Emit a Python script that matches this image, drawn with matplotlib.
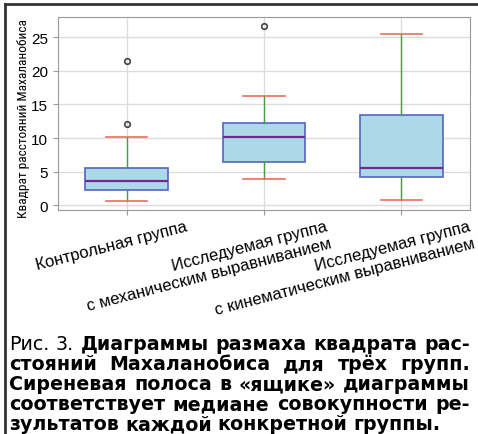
import matplotlib
matplotlib.use('Agg')
import matplotlib.pyplot as plt
import matplotlib.transforms as mtransforms
from matplotlib.lines import Line2D

plt.rcParams['font.family'] = ['Liberation Sans', 'DejaVu Sans']

# data
groups = ['Контрольная группа',
          'Исследуемая группа\nс механическим выравниванием',
          'Исследуемая группа\nс кинематическим выравниванием']
whislo = [0.65, 3.95, 0.8]
q1 = [2.25, 6.45, 4.2]
med = [3.6, 10.2, 5.6]
q3 = [5.5, 12.2, 13.4]
whishi = [10.2, 16.2, 25.5]
fliers = [[12.1, 21.4], [26.6], []]
yticks = [0, 5, 10, 15, 20, 25]
ylabel = 'Квадрат расстояний Махаланобиса'

caption = [
    [('Рис.', 'normal'), ('3.', 'normal'), ('Диаграммы', 'bold'), ('размаха', 'bold'),
     ('квадрата', 'bold'), ('рас-', 'bold')],
    [('стояний', 'bold'), ('Махаланобиса', 'bold'), ('для', 'bold'), ('трёх', 'bold'), ('групп.', 'bold')],
    [('Сиреневая', 'bold'), ('полоса', 'bold'), ('в', 'bold'), ('«ящике»', 'bold'), ('диаграммы', 'bold')],
    [('соответствует', 'bold'), ('медиане', 'bold'), ('совокупности', 'bold'), ('ре-', 'bold')],
    [('зультатов', 'bold'), ('каждой', 'bold'), ('конкретной', 'bold'), ('группы.', 'bold')],
]

W, H = 478, 435
fig = plt.figure(figsize=(W / 100, H / 100), dpi=100)
ax = fig.add_axes([58 / W, 1 - 211 / H, 412 / W, 193 / H])

stats = []
for i in range(len(groups)):
    stats.append(dict(label=groups[i], whislo=whislo[i], q1=q1[i], med=med[i],
                      q3=q3[i], whishi=whishi[i], fliers=fliers[i]))

ax.bxp(stats, positions=[1, 2, 3], widths=0.6, capwidths=0.3, patch_artist=True,
       boxprops=dict(facecolor='#add8e6', edgecolor='#5563c4', linewidth=1.2),
       medianprops=dict(color='#74288f', linewidth=1.6),
       whiskerprops=dict(color='#45a045', linewidth=1.0),
       capprops=dict(color='#e8705a', linewidth=1.2),
       flierprops=dict(marker='o', markerfacecolor='none', markeredgecolor='#444444',
                       markersize=4, markeredgewidth=1.2))

ax.set_xlim(0.5, 3.5)
ax.set_ylim(-0.7, 28)
ax.set_yticks(yticks)
ax.grid(True, color='#dcdcdc', linewidth=1)
ax.set_axisbelow(True)
for s in ax.spines.values():
    s.set_color('#999999')
ax.tick_params(colors='#999999', labelcolor='black', length=3.5, labelsize=11)

ylab = ax.set_ylabel(ylabel, fontsize=10.5, fontstretch='condensed',
                     family=['Roboto Condensed', 'Liberation Sans Narrow', 'Noto Sans'])
ax.yaxis.set_label_coords(-0.068, 0.477)

dxs = [42, 44, 48]
for lab, dx in zip(ax.get_xticklabels(), dxs):
    lab.set_rotation(14.5)
    lab.set_ha('right')
    lab.set_va('top')
    lab.set_rotation_mode('anchor')
    lab.set_multialignment('right')
    lab.set_fontsize(12)
    lab.set_transform(lab.get_transform() +
                      mtransforms.ScaledTranslation(dx / 72, 1 / 72, fig.dpi_scale_trans))

# frame lines
fig.add_artist(Line2D([5 / W, 1], [1 - 5 / H, 1 - 5 / H], color='#333333', lw=2))
fig.add_artist(Line2D([5 / W, 5 / W], [1 - 5 / H, 0], color='#333333', lw=2))

fig.canvas.draw()
r = fig.canvas.get_renderer()

# fit the y label to the height it takes in the reference
h = ylab.get_window_extent(r).height
ylab.set_fontsize(10.5 * 200 / h)

# justified caption, size fitted so the last line is about as long as in the reference
cap_font = 'DejaVu Sans'
x0, x1 = 9, 470
base = 14
probe = fig.text(0, 0, ' '.join(w for w, _ in caption[-1]), fontsize=base,
                 fontweight='bold', family=cap_font)
fs = base * 432 / probe.get_window_extent(r).width
probe.remove()

baselines = [350, 370, 390, 410, 430]
for i, words in enumerate(caption):
    y = 1 - baselines[i] / H
    texts = [fig.text(0, y, w, fontsize=fs, fontweight=wt, family=cap_font, va='baseline')
             for w, wt in words]
    widths = [t.get_window_extent(r).width for t in texts]
    if i < len(caption) - 1:
        gap = (x1 - x0 - sum(widths)) / (len(texts) - 1)
    else:
        gap = fs * 0.32 * 100 / 72
    x = x0
    for t, w in zip(texts, widths):
        t.set_x(x / W)
        x += w + gap

fig.savefig('out.png', dpi=100)
